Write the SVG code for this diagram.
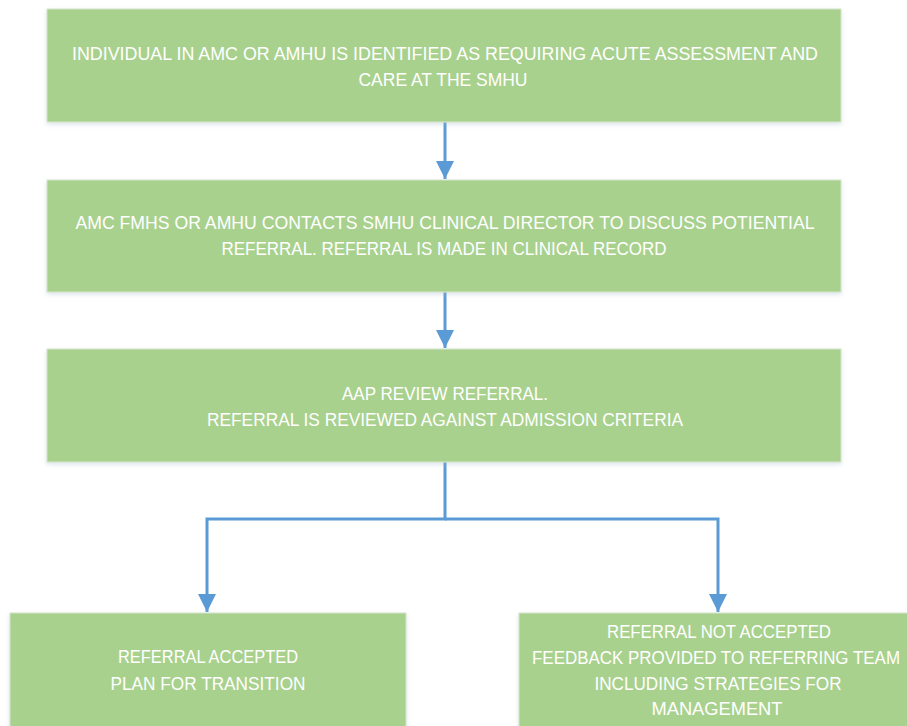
<svg xmlns="http://www.w3.org/2000/svg" width="907" height="726" viewBox="0 0 907 726">
  <style>
    .box { fill: #A9D18E; stroke: #D6E6CB; stroke-width: 1; }
    .lbl { font-family: "Liberation Sans", Arial, sans-serif; font-size: 17.5px; fill: #FFFFFF; text-anchor: middle; }
    .conn { fill: none; stroke: #5B9BD5; stroke-width: 3; }
  </style>
  <defs>
    <marker id="arrow" viewBox="0 0 10 10" refX="10" refY="5" markerWidth="6" markerHeight="6" markerUnits="strokeWidth" orient="auto">
      <path d="M0,0 L10,5 L0,10 Z" fill="#5B9BD5"/>
    </marker>
    <filter id="shadow" x="-5%" y="-5%" width="110%" height="120%">
      <feDropShadow dx="0" dy="2" stdDeviation="2" flood-color="#9DB3C8" flood-opacity="0.35"/>
    </filter>
  </defs>
  <rect width="907" height="726" fill="#FFFFFF"/>

  <g id="connectors">
    <path class="conn" d="M445,122 L445,179" marker-end="url(#arrow)"/>
    <path class="conn" d="M445,292 L445,348" marker-end="url(#arrow)"/>
    <path class="conn" d="M445,462 L445,519 L207,519 L207,612" marker-end="url(#arrow)"/>
    <path class="conn" d="M445,519 L718,519 L718,612" marker-end="url(#arrow)"/>
  </g>

  <g id="identified">
    <rect class="box" x="47" y="9" width="794" height="113" filter="url(#shadow)"/>
    <text class="lbl" x="445" y="60" textLength="746" lengthAdjust="spacingAndGlyphs">INDIVIDUAL IN AMC OR AMHU IS IDENTIFIED AS REQUIRING ACUTE ASSESSMENT AND</text>
    <text class="lbl" x="443" y="86" textLength="169" lengthAdjust="spacingAndGlyphs">CARE AT THE SMHU</text>
  </g>

  <g id="contact">
    <rect class="box" x="47" y="180" width="794" height="112" filter="url(#shadow)"/>
    <text class="lbl" x="445" y="229" textLength="739" lengthAdjust="spacingAndGlyphs">AMC FMHS OR AMHU CONTACTS SMHU CLINICAL DIRECTOR TO DISCUSS POTIENTIAL</text>
    <text class="lbl" x="444" y="255" textLength="445" lengthAdjust="spacingAndGlyphs">REFERRAL. REFERRAL IS MADE IN CLINICAL RECORD</text>
  </g>

  <g id="review">
    <rect class="box" x="47" y="349" width="794" height="113" filter="url(#shadow)"/>
    <text class="lbl" x="445" y="400" textLength="206" lengthAdjust="spacingAndGlyphs">AAP REVIEW REFERRAL.</text>
    <text class="lbl" x="445" y="426" textLength="476" lengthAdjust="spacingAndGlyphs">REFERRAL IS REVIEWED AGAINST ADMISSION CRITERIA</text>
  </g>

  <g id="accepted">
    <rect class="box" x="10" y="613" width="396" height="120" filter="url(#shadow)"/>
    <text class="lbl" x="208" y="663" textLength="180" lengthAdjust="spacingAndGlyphs">REFERRAL ACCEPTED</text>
    <text class="lbl" x="208" y="690" textLength="195" lengthAdjust="spacingAndGlyphs">PLAN FOR TRANSITION</text>
  </g>

  <g id="not-accepted">
    <rect class="box" x="519" y="613" width="400" height="120" filter="url(#shadow)"/>
    <text class="lbl" x="719" y="638" textLength="224" lengthAdjust="spacingAndGlyphs">REFERRAL NOT ACCEPTED</text>
    <text class="lbl" x="716" y="664" textLength="368" lengthAdjust="spacingAndGlyphs">FEEDBACK PROVIDED TO REFERRING TEAM</text>
    <text class="lbl" x="718" y="690" textLength="247" lengthAdjust="spacingAndGlyphs">INCLUDING STRATEGIES FOR</text>
    <text class="lbl" x="717" y="715" textLength="131" lengthAdjust="spacingAndGlyphs">MANAGEMENT</text>
  </g>
</svg>
